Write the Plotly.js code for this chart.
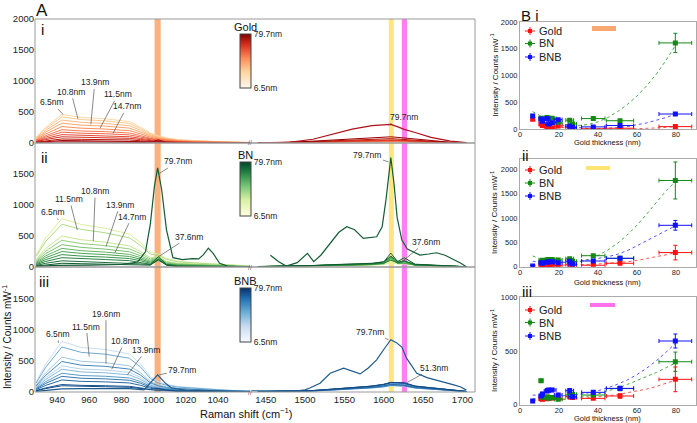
<!DOCTYPE html>
<html><head><meta charset="utf-8">
<script src="https://cdn.plot.ly/plotly-3.0.1.min.js"></script>
<style>html,body{margin:0;padding:0;background:#fff}#chart{width:697px;height:423px}</style>
</head><body><div id="chart"></div>
<script>
// ---------------- DATA ----------------
const THICK = [6.5, 10.8, 11.5, 13.9, 14.7, 16.5, 19.6, 25.5, 27.0, 37.6, 51.3, 79.7];
const MATERIALS = ['Gold', 'BN', 'BNB'];
const LX = [927, 933, 943, 955, 970, 985, 992, 998, 1003, 1008, 1015, 1025, 1040, 1050, 1060];
const RX = [1440, 1480, 1510, 1535, 1560, 1585, 1600, 1609, 1618, 1626, 1640, 1660, 1685, 1705];
const LEFT_TICKS = [940, 960, 980, 1000, 1020, 1040];
const RIGHT_TICKS = [1450, 1500, 1550, 1600, 1650, 1700];
const B_XTICKS = [0, 20, 40, 60, 80];

// Panel A i : Gold (rows follow THICK)
const goldLeft = [
 [92, 253, 460, 414, 391, 345, 253, 161, 115, 83, 55, 37, 23, 14, 9],
 [84, 231, 420, 378, 357, 315, 231, 147, 105, 76, 50, 34, 21, 13, 8],
 [74, 204, 370, 333, 315, 278, 204, 130, 93, 67, 44, 30, 19, 11, 7],
 [64, 176, 320, 288, 272, 240, 176, 112, 80, 58, 38, 26, 16, 10, 6],
 [53, 146, 265, 239, 225, 199, 146, 93, 66, 48, 32, 21, 13, 8, 5],
 [43, 118, 215, 194, 183, 161, 118, 75, 54, 39, 26, 17, 11, 6, 4],
 [35, 96, 175, 158, 149, 131, 96, 61, 44, 32, 21, 14, 9, 5, 4],
 [27, 74, 135, 122, 115, 101, 74, 47, 34, 24, 16, 11, 7, 4, 3],
 [20, 55, 100, 90, 85, 75, 55, 35, 25, 18, 12, 8, 5, 3, 2],
 [13, 36, 65, 59, 55, 49, 36, 23, 16, 12, 8, 5, 3, 2, 1],
 [8, 22, 40, 36, 34, 30, 22, 14, 10, 7, 5, 3, 2, 1, 1],
 [4, 11, 20, 18, 17, 15, 11, 9, 50, 6, 2, 2, 1, 1, 0]
];
const goldRight = [
 [1, 2, 6, 10, 14, 18, 20, 20, 18, 16, 12, 7, 2, 1],
 [1, 3, 8, 13, 18, 23, 25, 25, 23, 20, 15, 9, 3, 1],
 [1, 2, 7, 12, 17, 22, 24, 26, 22, 20, 15, 9, 3, 1],
 [2, 3, 9, 15, 21, 27, 30, 30, 27, 24, 18, 11, 4, 1],
 [2, 3, 9, 15, 21, 27, 30, 31, 28, 25, 18, 10, 4, 1],
 [2, 4, 11, 18, 25, 32, 35, 35, 32, 28, 21, 12, 4, 1],
 [2, 4, 12, 20, 28, 36, 40, 40, 36, 32, 24, 14, 5, 1],
 [2, 5, 14, 23, 32, 41, 45, 45, 41, 36, 27, 16, 5, 1],
 [3, 5, 15, 25, 35, 45, 50, 50, 45, 40, 30, 18, 6, 2],
 [4, 7, 21, 35, 49, 63, 70, 70, 63, 56, 42, 25, 8, 2],
 [5, 10, 30, 50, 70, 90, 100, 100, 90, 80, 60, 35, 12, 3],
 [5, 10, 60, 140, 225, 280, 295, 300, 260, 220, 170, 90, 30, 5]
];

// Panel A ii : BN (rows 6.5 .. 51.3), 79.7 separately
const bnLeft = [
 [195, 468, 780, 686, 624, 530, 390, 234, 210, 140, 94, 70, 47, 31, 16],
 [125, 300, 500, 440, 400, 340, 250, 150, 170, 90, 60, 45, 30, 20, 10],
 [172, 414, 690, 607, 552, 469, 345, 207, 190, 124, 83, 62, 41, 28, 14],
 [107, 258, 430, 378, 344, 292, 215, 129, 160, 77, 52, 39, 26, 17, 9],
 [90, 216, 360, 317, 288, 245, 180, 108, 150, 65, 43, 32, 22, 14, 7],
 [75, 180, 300, 264, 240, 204, 150, 90, 140, 54, 36, 27, 18, 12, 6],
 [62, 150, 250, 220, 200, 170, 125, 75, 130, 45, 30, 22, 15, 10, 5],
 [50, 120, 200, 176, 160, 136, 100, 60, 120, 40, 24, 18, 12, 8, 4],
 [37, 90, 150, 132, 120, 102, 75, 45, 110, 35, 18, 14, 9, 6, 3],
 [25, 60, 100, 88, 80, 68, 50, 40, 166, 40, 12, 9, 6, 4, 2],
 [15, 36, 60, 53, 48, 41, 30, 30, 120, 30, 7, 5, 4, 2, 1]
];
const bnRight = [
 [5, 8, 12, 20, 25, 30, 40, 70, 45, 50, 25, 20, 8, 2],
 [5, 10, 15, 25, 30, 35, 50, 110, 60, 160, 30, 25, 10, 3],
 [5, 10, 15, 25, 30, 35, 50, 120, 55, 80, 30, 25, 10, 3],
 [5, 10, 15, 25, 30, 38, 55, 130, 60, 75, 30, 25, 10, 3],
 [5, 10, 16, 26, 32, 40, 58, 140, 62, 80, 32, 26, 10, 3],
 [6, 11, 17, 28, 34, 42, 60, 150, 62, 70, 32, 26, 11, 3],
 [5, 10, 16, 26, 32, 40, 56, 137, 58, 60, 30, 25, 10, 3],
 [6, 12, 18, 30, 36, 45, 65, 165, 70, 90, 35, 28, 12, 4],
 [6, 12, 18, 30, 36, 44, 60, 110, 65, 95, 34, 27, 12, 4],
 [8, 14, 22, 36, 44, 55, 80, 225, 80, 100, 40, 32, 14, 4],
 [8, 15, 24, 38, 48, 60, 85, 175, 90, 150, 45, 35, 15, 5]
];
const bn79LeftX = [927, 940, 960, 980, 990, 995, 998, 1000.5, 1002.5, 1005, 1008, 1012, 1018, 1024, 1028, 1031, 1034, 1037, 1041, 1046, 1052, 1060];
const bn79LeftY = [10, 25, 30, 40, 80, 250, 700, 1300, 1600, 1250, 600, 150, 120, 135, 130, 200, 305, 220, 60, 15, 5, 5];
const bn79RightX = [1456, 1466, 1476, 1490, 1503, 1511, 1520, 1532, 1543, 1553, 1563, 1574, 1583, 1591, 1598, 1603, 1609, 1613, 1617, 1623, 1630, 1646, 1657, 1667, 1678, 1688, 1698, 1705];
const bn79RightY = [190, 90, 15, 70, 220, 85, 190, 380, 560, 650, 600, 462, 470, 488, 650, 1100, 1766, 1350, 800, 435, 290, 193, 210, 230, 190, 130, 60, 5];

// Panel A iii : BNB
const bnbLeft = [
 [162, 446, 810, 713, 680, 608, 446, 243, 162, 122, 89, 65, 41, 24, 16],
 [84, 230, 418, 368, 351, 314, 230, 125, 84, 63, 46, 33, 21, 13, 8],
 [112, 307, 558, 491, 469, 419, 307, 167, 112, 84, 61, 45, 28, 17, 11],
 [73, 201, 365, 321, 307, 274, 201, 110, 73, 55, 40, 29, 18, 11, 7],
 [144, 396, 720, 634, 605, 540, 396, 216, 144, 108, 79, 58, 36, 22, 14],
 [60, 165, 300, 264, 252, 225, 165, 90, 60, 45, 33, 24, 15, 9, 6],
 [98, 268, 488, 429, 410, 366, 268, 146, 98, 73, 54, 39, 24, 15, 10],
 [50, 138, 250, 220, 210, 188, 138, 75, 50, 38, 28, 20, 13, 8, 5],
 [39, 106, 193, 170, 162, 145, 106, 58, 39, 29, 21, 15, 10, 6, 4],
 [24, 66, 120, 106, 101, 90, 66, 36, 24, 18, 13, 10, 6, 4, 2],
 [20, 55, 100, 88, 84, 75, 55, 40, 60, 30, 11, 8, 5, 3, 2]
];
const bnbRight = [
 [3, 6, 15, 30, 45, 62, 80, 100, 95, 90, 60, 45, 22, 6],
 [3, 7, 17, 33, 50, 68, 88, 110, 105, 99, 66, 50, 24, 7],
 [4, 7, 18, 36, 54, 74, 96, 120, 114, 108, 72, 54, 26, 7],
 [4, 8, 20, 39, 59, 81, 104, 130, 124, 117, 78, 59, 29, 8],
 [4, 8, 21, 42, 63, 87, 112, 140, 133, 126, 84, 63, 31, 8],
 [4, 8, 19, 38, 56, 78, 100, 125, 119, 113, 75, 56, 28, 8],
 [3, 6, 16, 32, 47, 65, 84, 105, 100, 95, 63, 47, 23, 6],
 [5, 9, 23, 45, 68, 93, 120, 150, 143, 135, 90, 68, 33, 9],
 [4, 7, 18, 36, 54, 74, 96, 120, 114, 108, 72, 54, 26, 7],
 [5, 9, 23, 47, 70, 96, 124, 155, 150, 140, 93, 70, 34, 9],
 [5, 9, 23, 45, 68, 93, 120, 150, 150, 150, 95, 70, 34, 9]
];
const bnb79LeftX = [927, 935, 943, 955, 970, 985, 994, 998, 1002.5, 1007, 1011, 1020, 1040, 1050, 1060];
const bnb79LeftY = [10, 30, 50, 55, 60, 55, 35, 140, 274, 150, 64, 30, 20, 10, 5];
const bnb79RightX = [1432, 1460, 1490, 1500, 1506, 1519, 1532, 1549, 1560, 1570, 1580, 1591, 1600, 1609, 1616, 1623, 1629, 1636, 1642, 1655, 1667, 1678, 1689, 1698, 1705];
const bnb79RightY = [20, 25, 20, 35, 64, 140, 300, 380, 335, 290, 380, 515, 680, 837, 790, 720, 541, 400, 300, 230, 193, 150, 113, 80, 30];

// Panel B : peak intensities vs gold thickness (x = THICK)
const XERR = [0.5, 1, 1, 1.5, 1.5, 2, 2, 2, 2, 6, 7, 8.4];
const bi_gold = [186, 99, 70, 50, 35, 25, 62, 40, 20, 10, 20, 50];
const bi_bn   = [null, 205, 180, 220, 190, 205, 130, 170, 100, 200, 160, 1610];
const bi_bnb  = [250, 190, 150, 200, 100, 120, 180, 60, 35, 45, 70, 285];
const bi_gold_err = [15, 15, 10, 10, 10, 10, 10, 10, 10, 10, 10, 20];
const bi_bn_err   = [0, 20, 20, 20, 20, 20, 20, 20, 20, 20, 20, 180];
const bi_bnb_err  = [15, 15, 15, 15, 15, 15, 15, 15, 15, 15, 15, 25];
const bii_gold = [null, 30, 25, 34, 27, 27, 20, 41, 27, 30, 70, 290];
const bii_bn   = [null, 110, 130, 137, 150, 150, 137, 164, 110, 226, 172, 1770];
const bii_bnb  = [14, 82, 70, 90, 100, 103, 82, 110, 55, 117, 172, 850];
const bii_gold_err = [0, 10, 10, 10, 10, 10, 10, 10, 10, 10, 15, 150];
const bii_bn_err   = [0, 20, 20, 20, 20, 20, 20, 20, 20, 25, 25, 380];
const bii_bnb_err  = [10, 15, 15, 15, 15, 15, 15, 15, 15, 20, 20, 100];
const biii_gold = [null, 56, 50, 56, 60, 62, 56, 75, 68, 59, 81, 236];
const biii_bn   = [null, 224, 70, 75, 60, 68, 50, 90, 96, 90, 150, 400];
const biii_bnb  = [34, 81, 100, 127, 137, 137, 90, 130, 75, 115, 152, 593];
const biii_gold_err = [0, 8, 8, 8, 8, 8, 8, 10, 10, 10, 20, 115];
const biii_bn_err   = [0, 15, 10, 10, 10, 10, 10, 12, 12, 12, 20, 90];
const biii_bnb_err  = [8, 12, 15, 15, 15, 15, 15, 20, 15, 15, 20, 65];
// dotted fit curves
const FIT_X = [6.5, 10, 15, 20, 25, 30, 35, 40, 45, 50, 55, 60, 65, 70, 75, 80];
const bi_fit_gold = [180, 130, 75, 40, 15, 5, 0, 0, 0, 0, 3, 10, 18, 25, 36, 50];
const bi_fit_bn   = [330, 260, 180, 120, 80, 70, 90, 140, 220, 330, 460, 620, 810, 1030, 1290, 1580];
const bi_fit_bnb  = [240, 190, 140, 90, 55, 30, 15, 10, 15, 30, 50, 80, 120, 170, 220, 285];
const bii_fit_gold = [20, 22, 25, 30, 35, 40, 47, 55, 65, 80, 100, 130, 165, 200, 245, 290];
const bii_fit_bn   = [220, 170, 120, 90, 80, 100, 150, 230, 340, 480, 650, 850, 1080, 1330, 1560, 1760];
const bii_fit_bnb  = [110, 95, 85, 85, 95, 110, 135, 165, 205, 255, 330, 430, 530, 630, 740, 845];
const biii_fit_gold = [40, 41, 43, 45, 50, 55, 62, 70, 82, 95, 110, 125, 145, 170, 198, 230];
const biii_fit_bn   = [55, 52, 50, 50, 55, 65, 80, 100, 125, 155, 188, 225, 262, 300, 345, 390];
const biii_fit_bnb  = [90, 85, 80, 80, 85, 95, 110, 130, 158, 190, 230, 280, 340, 410, 490, 575];

// ---------------- STYLE ----------------
const W = 697, H = 423;
const fx = p => p / W, fy = p => 1 - p / H;
const FONT = 'Liberation Sans, Arial, sans-serif';
const goldColors = ['#fdd9a8','#fdca8f','#fdbb84','#fca56c','#fc8d59','#f67a4f','#ef6548','#e24a33','#d7301f','#bb1408','#9b0000','#b0101a'];
const bnColors = ['#d9ef9c','#c6e78e','#aedc84','#94cf7a','#7bc271','#62b463','#4ca555','#38944a','#278240','#1b6f37','#0e5c2f','#145c33'];
const bnbColors = ['#c9def1','#b6d3ea','#a0c7e2','#88b9da','#6eabd3','#579bca','#4489bf','#3479b2','#2668a5','#1c5894','#134b85','#1d5a8c'];
const csGold = [[0,'#fff8ef'],[0.3,'#fdd49e'],[0.55,'#fc8d59'],[0.8,'#d7301f'],[1,'#7f0000']];
const csBN = [[0,'#ffffe0'],[0.3,'#d9f0a3'],[0.55,'#78c679'],[0.8,'#238443'],[1,'#004529']];
const csBNB = [[0,'#f7fbff'],[0.3,'#c6dbef'],[0.55,'#6baed6'],[0.8,'#2171b5'],[1,'#08306b']];
const MAT_COLORS = ['#ff1010', '#138a13', '#1010ff'];
const FIT_COLORS = ['#ff5555', '#44aa44', '#5555ff'];

const traces = [];
function addLine(x, y, xa, ya, color, w) {
  traces.push({type:'scatter', mode:'lines', x, y, xaxis:xa, yaxis:ya,
    line:{color, width:w}, showlegend:false, hoverinfo:'skip'});
}
// Gold
for (let i = 0; i < THICK.length; i++) {
  const w = i === THICK.length - 1 ? 1.2 : 1;
  addLine(LX, goldLeft[i], 'x', 'y', goldColors[i], w);
  addLine(RX, goldRight[i], 'x2', 'y2', goldColors[i], w);
}
// BN
for (let i = 0; i < bnLeft.length; i++) {
  addLine(LX, bnLeft[i], 'x3', 'y3', bnColors[i], 1);
  addLine(RX, bnRight[i], 'x4', 'y4', bnColors[i], 1);
}
addLine(bn79LeftX, bn79LeftY, 'x3', 'y3', bnColors[11], 1.2);
addLine(bn79RightX, bn79RightY, 'x4', 'y4', bnColors[11], 1.2);
// BNB
for (let i = 0; i < bnbLeft.length; i++) {
  addLine(LX, bnbLeft[i], 'x5', 'y5', bnbColors[i], 1);
  addLine(RX, bnbRight[i], 'x6', 'y6', bnbColors[i], 1);
}
addLine(bnb79LeftX, bnb79LeftY, 'x5', 'y5', bnbColors[11], 1.2);
addLine(bnb79RightX, bnb79RightY, 'x6', 'y6', bnbColors[11], 1.2);

// colour bars
function cbar(cs, topPx, xa, ya) {
  traces.push({type:'scatter', mode:'markers', x:[null], y:[null], xaxis:xa, yaxis:ya,
    showlegend:false, hoverinfo:'skip',
    marker:{color:[THICK[0]], cmin:THICK[0], cmax:THICK[THICK.length-1], colorscale:cs, showscale:true,
      colorbar:{x:fx(240), xanchor:'left', xpad:0, y:fy(topPx), yanchor:'top', ypad:0,
        len:54, lenmode:'pixels', thickness:11, thicknessmode:'pixels',
        outlinewidth:1, outlinecolor:'#444',
        tickvals:[THICK[0], THICK[THICK.length-1]],
        ticktext:[THICK[0] + 'nm', THICK[THICK.length-1] + 'nm'],
        ticks:'', tickfont:{size:8.5, family:FONT, color:'#222'}}}});
}
cbar(csGold, 34, 'x', 'y');
cbar(csBN, 162, 'x3', 'y3');
cbar(csBNB, 288, 'x5', 'y5');

// Panel B
const B_SETS = [
  {ax:['x7','y7'], vals:[bi_gold, bi_bn, bi_bnb], errs:[bi_gold_err, bi_bn_err, bi_bnb_err], fits:[bi_fit_gold, bi_fit_bn, bi_fit_bnb]},
  {ax:['x8','y8'], vals:[bii_gold, bii_bn, bii_bnb], errs:[bii_gold_err, bii_bn_err, bii_bnb_err], fits:[bii_fit_gold, bii_fit_bn, bii_fit_bnb]},
  {ax:['x9','y9'], vals:[biii_gold, biii_bn, biii_bnb], errs:[biii_gold_err, biii_bn_err, biii_bnb_err], fits:[biii_fit_gold, biii_fit_bn, biii_fit_bnb]}
];
B_SETS.forEach(s => {
  for (let m = 0; m < 3; m++) {
    traces.push({type:'scatter', mode:'lines', x:FIT_X, y:s.fits[m], xaxis:s.ax[0], yaxis:s.ax[1],
      line:{color:FIT_COLORS[m], width:1, dash:'dot'}, showlegend:false, hoverinfo:'skip'});
  }
  for (let m = 0; m < 3; m++) {
    traces.push({type:'scatter', mode:'markers', x:THICK, y:s.vals[m], xaxis:s.ax[0], yaxis:s.ax[1],
      name:MATERIALS[m], showlegend:false, hoverinfo:'skip',
      marker:{symbol:'square', size:5, color:MAT_COLORS[m]},
      error_x:{type:'data', array:XERR, color:MAT_COLORS[m], thickness:1, width:2},
      error_y:{type:'data', array:s.errs[m], color:MAT_COLORS[m], thickness:1, width:2}});
  }
});

// ---------------- LAYOUT ----------------
const A_ROWS = [[19, 143], [143, 267], [267, 392]];
function axLeft(anchor, labels) {
  return {domain:[fx(35), fx(250)], anchor, range:[926.3, 1059.9], tickvals:LEFT_TICKS,
    showticklabels:labels, showgrid:false, zeroline:false, showline:false, ticks:'',
    tickfont:{size:9.5}, fixedrange:true};
}
function axRight(anchor, labels) {
  return {domain:[fx(250), fx(475)], anchor, range:[1430, 1716], tickvals:RIGHT_TICKS,
    showticklabels:labels, showgrid:false, zeroline:false, showline:false, ticks:'',
    tickfont:{size:9.5}, fixedrange:true};
}
function ayA(anchor, row, ticks, labels) {
  return {domain:[fy(A_ROWS[row][1]), fy(A_ROWS[row][0])], anchor, range:[0, 2000], tickvals:ticks,
    showticklabels:labels, showgrid:false, zeroline:false, showline:false, ticks:'',
    tickfont:{size:9.5}, fixedrange:true};
}
const B_ROWS = [[22, 129.3, 2000, [0,500,1000,1500,2000]], [159.3, 266.7, 2205, [0,500,1000,1500,2000]], [297.3, 404.7, 1000, [0,500,1000]]];
function axB(anchor) {
  return {domain:[fx(520), fx(696)], anchor, range:[0, 90.3], tickvals:B_XTICKS, showgrid:false,
    zeroline:false, showline:true, mirror:true, linecolor:'#aaa', linewidth:1, ticks:'',
    ticklabelstandoff:-2, tickfont:{size:7.5}, fixedrange:true};
}
function ayB(anchor, r) {
  return {domain:[fy(B_ROWS[r][1]), fy(B_ROWS[r][0])], anchor, range:[0, B_ROWS[r][2]], tickvals:B_ROWS[r][3],
    showgrid:false, zeroline:false, showline:true, mirror:true, linecolor:'#aaa', linewidth:1, ticks:'',
    tickfont:{size:7.5}, fixedrange:true};
}

const shapes = [];
const annotations = [];
// bands
const band = (xref, x0, x1, color) => shapes.push({type:'rect', xref, yref:'paper', x0, x1,
  y0:fy(392), y1:fy(19), fillcolor:color, opacity:0.9, line:{width:0}, layer:'below'});
band('x', 1000.6, 1004.4, '#f9a872');
band('x2', 1606.4, 1612.8, '#fde370');
band('x2', 1623, 1629.6, '#ff70ee');
// frames of panel A
A_ROWS.forEach(r => shapes.push({type:'rect', xref:'paper', yref:'paper', x0:fx(35), x1:fx(475),
  y0:fy(r[1]), y1:fy(r[0]), line:{color:'#999', width:1}, fillcolor:'rgba(0,0,0,0)', layer:'above'}));
// coloured keys in panel B
const keyRect = (x0, x1, y0, y1, color) => shapes.push({type:'rect', xref:'paper', yref:'paper',
  x0:fx(x0), x1:fx(x1), y0:fy(y1), y1:fy(y0), fillcolor:color, line:{width:0}});
keyRect(592, 616, 26, 31, '#f9a872');
keyRect(586, 610, 166, 170, '#fde370');
keyRect(590, 615, 303, 307, '#ff70ee');
// manual legends in panel B
function legendItem(yp, color, label) {
  shapes.push({type:'line', xref:'paper', yref:'paper', x0:fx(525), x1:fx(535), y0:fy(yp), y1:fy(yp), line:{color, width:1}});
  shapes.push({type:'line', xref:'paper', yref:'paper', x0:fx(530), x1:fx(530), y0:fy(yp-4), y1:fy(yp+4), line:{color, width:1}});
  shapes.push({type:'rect', xref:'paper', yref:'paper', x0:fx(528), x1:fx(532), y0:fy(yp+2), y1:fy(yp-2), fillcolor:color, line:{width:0}});
  annotations.push({xref:'paper', yref:'paper', x:fx(537), y:fy(yp), xanchor:'left', yanchor:'middle',
    text:label, showarrow:false, font:{size:11, color:'#222'}});
}
[[31, 43.5, 57], [170, 183, 196], [310, 322.5, 336]].forEach(ys => {
  for (let m = 0; m < 3; m++) legendItem(ys[m], MAT_COLORS[m], MATERIALS[m]);
});

// text annotations (explicit anchors)
const txt = (x, y, text, size, opts) => annotations.push(Object.assign({xref:'paper', yref:'paper',
  x:fx(x), y:fy(y), xanchor:'center', yanchor:'middle', text, showarrow:false,
  font:{size, color:'#111'}}, opts || {}));
txt(42, 10, 'A', 17);
txt(42, 30, 'i', 15);
txt(44, 157, 'ii', 15);
txt(44, 281, 'iii', 15);
txt(519, 15, 'B i', 15, {xanchor:'left'});
txt(520, 155, 'ii', 15, {xanchor:'left'});
txt(520, 291, 'iii', 15, {xanchor:'left'});
txt(245, 27, 'Gold', 11);
txt(245, 155, 'BN', 11);
txt(245, 281, 'BNB', 11);
txt(246, 413, 'Raman shift (cm<sup>−1</sup>)', 11);
txt(7, 337, 'Intensity / Counts mW<sup>-1</sup>', 10, {textangle:-90});
[75.6, 213, 351].forEach(yc => txt(494, yc, 'Intensity / Counts mW<sup>-1</sup>', 8, {textangle:-90}));
[143, 282, 418].forEach(yc => txt(607, yc, 'Gold thickness (nm)', 7.5));
[143, 267, 392].forEach(yc => txt(250, yc, '//', 7, {font:{size:7, color:'#666'}}));

// leader-line labels on spectra
const lab = (xref, yref, x, y, text, ax, ay) => annotations.push({xref, yref, x, y, text, showarrow:true,
  arrowhead:0, arrowwidth:0.7, arrowcolor:'#555', ax, ay, standoff:0, font:{size:8.5, color:'#222'}});
const nm = i => THICK[i] + 'nm';
// Gold
lab('x','y', 943.7, 460, nm(0), -11, -12);
lab('x','y', 953, 390, nm(1), -7, -27);
lab('x','y', 961, 300, nm(3), 4, -42);
lab('x','y', 966.7, 237, nm(2), 18, -34);
lab('x','y', 974.8, 156, nm(4), 14, -27);
lab('x2','y2', 1606, 290, nm(11), 16, -8);
// BN
lab('x3','y3', 1003.5, 1508, nm(11), 19, -12);
lab('x3','y3', 940.8, 757, nm(0), -5, -8);
lab('x3','y3', 952.6, 596, nm(2), -8, -31);
lab('x3','y3', 962.5, 418, nm(1), 2, -50);
lab('x3','y3', 970.4, 327, nm(3), 14, -42);
lab('x3','y3', 976, 230, nm(4), 17, -36);
lab('x3','y3', 1003, 166, nm(9), 31, -20);
lab('x4','y4', 1606, 1695, nm(11), -21, -7);
lab('x4','y4', 1624.3, 97, nm(9), 23, -19);
// BNB
lab('x5','y5', 940.8, 784, nm(0), 0, -9);
lab('x5','y5', 960, 568, nm(2), -3, -30);
lab('x5','y5', 970.4, 451, nm(6), 0, -50);
lab('x5','y5', 974, 365, nm(1), 13, -28);
lab('x5','y5', 983.7, 274, nm(3), 19, -25);
lab('x5','y5', 1003.5, 274, nm(11), 23, -5);
lab('x6','y6', 1606, 837, nm(11), -18, -8);
lab('x6','y6', 1629.4, 150, nm(10), 27, -15);

const layout = {
  width:W, height:H, margin:{l:0, r:0, t:0, b:0},
  paper_bgcolor:'#ffffff', plot_bgcolor:'rgba(0,0,0,0)', showlegend:false,
  font:{family:FONT, size:9, color:'#222'},
  xaxis:axLeft('y', false), xaxis2:axRight('y2', false),
  xaxis3:axLeft('y3', false), xaxis4:axRight('y4', false),
  xaxis5:axLeft('y5', true), xaxis6:axRight('y6', true),
  yaxis:ayA('x', 0, [0,500,1000,1500,2000], true), yaxis2:ayA('x2', 0, [0], false),
  yaxis3:ayA('x3', 1, [0,500,1000,1500], true), yaxis4:ayA('x4', 1, [0], false),
  yaxis5:ayA('x5', 2, [0,500,1000,1500], true), yaxis6:ayA('x6', 2, [0], false),
  xaxis7:axB('y7'), yaxis7:ayB('x7', 0),
  xaxis8:axB('y8'), yaxis8:ayB('x8', 1),
  xaxis9:axB('y9'), yaxis9:ayB('x9', 2),
  shapes, annotations
};
Plotly.newPlot('chart', traces, layout, {displayModeBar:false, staticPlot:true});
</script>
</body></html>
